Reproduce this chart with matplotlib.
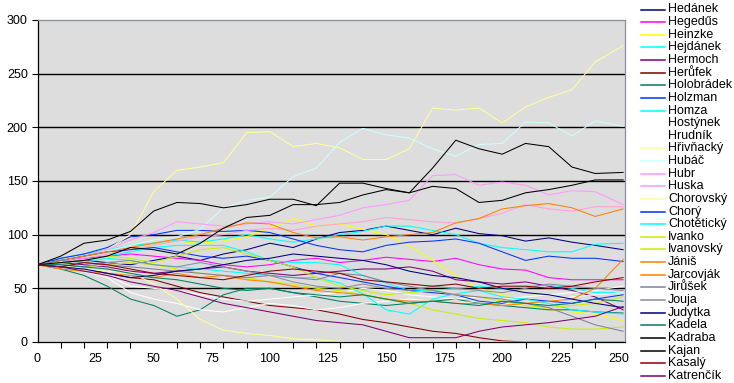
import matplotlib
matplotlib.use("Agg")
import matplotlib.pyplot as plt
from matplotlib.lines import Line2D

plt.rcParams['font.family'] = ['Liberation Sans', 'DejaVu Sans']

# day index of each read-off value
steps = [0, 10, 20, 30, 40, 50, 60, 70, 80, 90, 100, 110, 120, 130, 140,
         150, 160, 170, 180, 190, 200, 210, 220, 230, 240, 252]

hedanek = [72, 74, 76, 74, 72, 76, 80, 76, 82, 86, 92, 88, 96, 102, 104, 108, 104, 100, 106, 101, 99, 94, 97, 93, 90, 86]
hegedus = [72, 76, 78, 80, 82, 80, 78, 76, 72, 70, 72, 76, 78, 74, 76, 79, 77, 75, 78, 72, 68, 67, 60, 58, 58, 58]
heinzke = [72, 76, 80, 84, 86, 90, 94, 92, 94, 98, 106, 115, 108, 110, 105, 100, 90, 76, 62, 50, 44, 36, 30, 28, 26, 20]
hejdanek = [72, 78, 82, 86, 90, 92, 95, 93, 96, 100, 96, 93, 96, 100, 103, 108, 108, 104, 100, 92, 88, 86, 84, 84, 91, 92]
hermoch = [72, 74, 72, 70, 66, 64, 66, 68, 70, 66, 64, 62, 64, 66, 68, 68, 70, 66, 58, 56, 54, 56, 52, 48, 42, 30]
herufek = [72, 70, 68, 64, 60, 58, 52, 46, 42, 38, 34, 32, 30, 26, 21, 18, 14, 10, 8, 4, 1, 0, 0, 0, 0, 0]
holobradek = [72, 68, 62, 52, 40, 34, 24, 30, 44, 50, 50, 46, 42, 38, 36, 34, 36, 38, 40, 36, 34, 32, 30, 30, 28, 27]
holzman = [72, 78, 82, 88, 98, 100, 104, 104, 103, 104, 102, 96, 90, 86, 84, 90, 93, 94, 96, 92, 84, 76, 80, 78, 78, 75]
homza = [72, 74, 76, 80, 84, 88, 90, 90, 90, 84, 76, 74, 74, 72, 62, 55, 48, 48, 50, 52, 50, 52, 53, 50, 46, 46]
hostynek = [72, 70, 66, 60, 46, 40, 36, 30, 28, 32, 36, 34, 30, 32, 36, 38, 40, 38, 36, 38, 36, 34, 38, 42, 44, 46]
hrudnik = [72, 72, 68, 62, 52, 50, 48, 44, 40, 38, 40, 42, 44, 46, 50, 48, 44, 42, 40, 42, 40, 42, 44, 46, 48, 52]
hrivnacky = [72, 76, 80, 86, 100, 140, 160, 163, 167, 195, 196, 182, 185, 181, 170, 170, 180, 218, 216, 218, 204, 219, 228, 235, 261, 276]
hubac = [72, 75, 80, 85, 90, 95, 98, 105, 125, 132, 135, 154, 162, 186, 199, 193, 190, 180, 173, 184, 185, 205, 204, 192, 206, 201]
hubr = [72, 76, 80, 86, 95, 102, 112, 110, 108, 110, 112, 110, 114, 118, 125, 128, 132, 155, 156, 146, 149, 146, 137, 141, 140, 128]
huska = [72, 74, 78, 82, 86, 90, 94, 98, 100, 104, 106, 104, 108, 110, 112, 116, 114, 112, 111, 115, 120, 128, 124, 122, 126, 126]
chorovsky = [72, 70, 68, 66, 65, 54, 40, 21, 11, 8, 6, 3, 2, 0.5, 0, 0, 0, 0, 0, 0, 0, 0, 0, 0, 0, 0]
chory = [72, 76, 80, 84, 86, 88, 84, 80, 78, 80, 76, 70, 64, 60, 56, 52, 48, 46, 44, 38, 36, 40, 38, 36, 40, 44]
choteticky = [72, 70, 74, 78, 76, 72, 70, 68, 66, 64, 62, 60, 60, 55, 45, 30, 26, 40, 45, 48, 42, 40, 36, 30, 28, 26]
ivanko = [72, 74, 76, 80, 78, 74, 80, 86, 88, 82, 76, 70, 60, 52, 48, 44, 46, 48, 44, 42, 38, 34, 32, 34, 36, 42]
ivanovsky = [72, 72, 70, 72, 74, 72, 68, 64, 62, 60, 56, 54, 50, 48, 44, 40, 36, 30, 26, 22, 20, 18, 14, 12, 12, 14]
janis = [72, 68, 66, 64, 62, 60, 64, 60, 62, 58, 56, 52, 48, 46, 44, 40, 38, 38, 36, 36, 34, 36, 38, 40, 50, 77]
jarcovjak = [72, 76, 80, 84, 88, 92, 96, 100, 106, 111, 110, 102, 97, 98, 95, 98, 100, 102, 111, 115, 124, 127, 129, 125, 117, 124]
jirusek = [72, 76, 74, 72, 70, 68, 66, 64, 62, 60, 62, 60, 58, 64, 62, 56, 52, 48, 44, 42, 40, 36, 32, 24, 16, 10]
jouja = [72, 72, 70, 74, 76, 72, 70, 74, 70, 66, 62, 56, 52, 50, 54, 50, 48, 52, 50, 48, 46, 50, 54, 52, 50, 48]
judytka = [72, 70, 68, 64, 60, 62, 66, 68, 72, 76, 78, 82, 80, 78, 76, 72, 66, 62, 60, 56, 50, 46, 44, 40, 36, 32]
kadela = [72, 72, 70, 68, 64, 60, 58, 54, 50, 48, 50, 46, 44, 42, 44, 40, 36, 38, 36, 34, 38, 36, 34, 36, 40, 38]
kadraba = [72, 80, 92, 95, 103, 122, 130, 129, 125, 128, 133, 133, 127, 148, 148, 143, 139, 162, 188, 180, 175, 185, 182, 163, 157, 158]
kajan = [72, 74, 76, 80, 88, 86, 82, 92, 106, 116, 118, 128, 128, 130, 137, 142, 139, 145, 143, 130, 132, 139, 142, 146, 151, 151]
kasaly = [72, 70, 74, 72, 68, 64, 62, 60, 58, 62, 66, 68, 66, 64, 58, 56, 54, 52, 54, 50, 52, 52, 50, 52, 56, 60]
katrencik = [72, 70, 66, 62, 56, 52, 48, 42, 36, 32, 28, 24, 20, 18, 16, 10, 4, 4, 4, 10, 14, 16, 18, 21, 24, 33]

names = ['Hedánek', 'Hegedűs', 'Heinzke', 'Hejdánek', 'Hermoch', 'Herůfek',
         'Holobrádek', 'Holzman', 'Homza', 'Hostýnek', 'Hrudník', 'Hřivňacký',
         'Hubáč', 'Hubr', 'Huska', 'Chorovský', 'Chorý', 'Chotětický', 'Ivanko',
         'Ivanovský', 'Jániš', 'Jarcovják', 'Jirůšek', 'Jouja', 'Judytka',
         'Kadela', 'Kadraba', 'Kajan', 'Kasalý', 'Katrenčík']

series = [hedanek, hegedus, heinzke, hejdanek, hermoch, herufek, holobradek,
          holzman, homza, hostynek, hrudnik, hrivnacky, hubac, hubr, huska,
          chorovsky, chory, choteticky, ivanko, ivanovsky, janis, jarcovjak,
          jirusek, jouja, judytka, kadela, kadraba, kajan, kasaly, katrencik]

colors = ['#000080', '#FF00FF', '#FFFF00', '#00FFFF', '#800080', '#800000',
          '#008060', '#0033FF', '#00FFFF', '#FFFFFF', '#FFFFFF', '#FFFF99',
          '#CCFFFF', '#FF99FF', '#FF9FE0', '#FFFF99', '#0033FF', '#00FFFF',
          '#CCEE00', '#CCEE00', '#FF8000', '#FF8000', '#8080A0', '#8C8C9C',
          '#000080', '#008060', '#000000', '#000000', '#900000', '#800070']

fig = plt.figure(figsize=(7.34, 3.83), dpi=100)
ax = fig.add_axes([37.5 / 734, 41 / 383, 587 / 734, 322 / 383])
ax.set_facecolor('#DDDDDD')

for vals, c in zip(series, colors):
    ax.plot(steps, vals, color=c, lw=0.75)

ax.set_xlim(0, 252.6)
ax.set_ylim(0, 300)
ax.set_yticks(range(0, 301, 50))
ax.set_xticks(range(0, 251, 25))
ax.set_xticks(range(0, 251, 10), minor=True)
ax.tick_params(axis='x', which='major', length=0, pad=8, labelsize=9)
ax.tick_params(axis='x', which='minor', length=4, width=0.8, direction='out')
ax.tick_params(axis='y', length=4, width=0.8, direction='out', pad=3, labelsize=9)
for y in range(50, 300, 50):
    ax.axhline(y, color='black', lw=1, zorder=0.5)

ax.spines['top'].set_color('#8890A0')
ax.spines['right'].set_color('#8890A0')
for s in ax.spines.values():
    s.set_linewidth(0.9)

# legend drawn row by row to copy the tight spacing
for i, (name, c) in enumerate(zip(names, colors)):
    yy = 1 - (9.5 + 12.63 * i) / 383
    fig.add_artist(Line2D([641 / 734, 665 / 734], [yy, yy], color=c, lw=1.1))
    fig.text(668 / 734, yy, name, fontsize=9, va='center', ha='left')

fig.savefig('out.png', dpi=100)
